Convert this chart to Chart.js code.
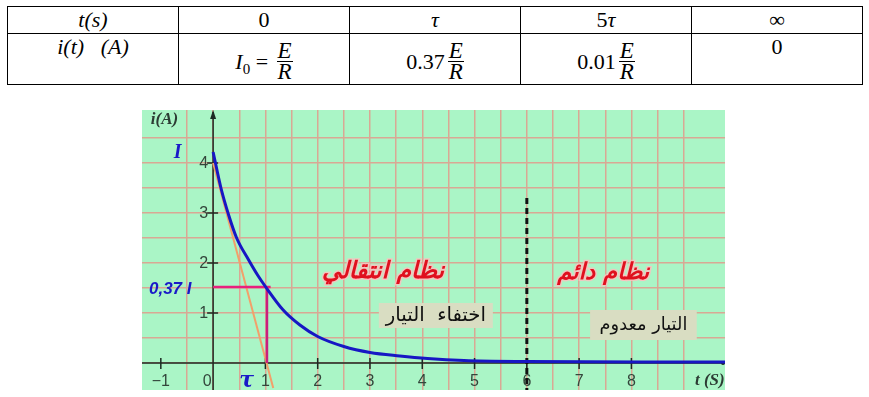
<!DOCTYPE html>
<html>
<head>
<meta charset="utf-8">
<script src="https://cdn.jsdelivr.net/npm/chart.js@4.4.0/dist/chart.umd.min.js"></script>
<style>
body { margin: 0; background: #fff; width: 869px; height: 397px; position: relative; overflow: hidden; }
table { position: absolute; left: 7px; top: 6px; width: 856px; border-collapse: collapse;
        font-family: "Liberation Serif", serif; font-size: 22px; table-layout: fixed; }
td { border: 1px solid #000; text-align: center; padding: 0; }
tr.r1 td { height: 26px; line-height: 24px; }
tr.r2 td { height: 50px; vertical-align: top; line-height: 26px; }
td.fr { padding-top: 7px; height: 43px !important; }
.it { font-style: italic; }
.frac { display: inline-block; vertical-align: middle; text-align: center; font-style: italic; margin-left: 3px; font-size: 23px; }
.frac span { display: block; line-height: 20px; padding: 0 1px; }
.frac .num { border-bottom: 1px solid #000; }
.lhs { vertical-align: middle; }
#wrap { position: absolute; left: 142px; top: 110px; width: 583px; height: 280px; }
</style>
</head>
<body>
<table>
  <tr class="r1">
    <td class="it">t(s)</td><td>0</td><td class="it">τ</td><td>5<span class="it">τ</span></td><td>∞</td>
  </tr>
  <tr class="r2">
    <td><span class="it">i(t)</span>&nbsp;&nbsp;&nbsp;<span class="it">(A)</span></td>
    <td class="fr"><span class="lhs" style="position:relative;top:4px"><i>I</i><sub style="font-size:15px">0</sub> = </span><span class="frac"><span class="num">E</span><span>R</span></span></td>
    <td class="fr"><span class="lhs">0.37</span><span class="frac"><span class="num">E</span><span>R</span></span></td>
    <td class="fr"><span class="lhs">0.01</span><span class="frac"><span class="num">E</span><span>R</span></span></td>
    <td>0</td>
  </tr>
</table>

<div id="wrap"><canvas id="chart" width="583" height="280"></canvas></div>

<script>
// current decay i(t)
const tValues = [0, 0.15, 0.3, 0.45, 0.68, 0.85, 1.0, 1.34, 1.66, 2.0, 2.5, 3.0, 3.57, 4.1, 4.8, 6.0, 8.5, 9.8];
const iValues = [4.22, 3.5, 2.95, 2.5, 2.06, 1.76, 1.53, 1.06, 0.76, 0.53, 0.33, 0.21, 0.14, 0.09, 0.05, 0.03, 0.02, 0.02];

// tangent at t = 0
const tangentT = [0, 1.15];
const tangentI = [4.0, -0.5];

// 0.37 I  /  tau construction
const levelT = [0, 1.1];
const levelI = [1.52, 1.52];
const tauT = [1.03, 1.03];
const tauI = [1.52, 0];

// boundary transient / steady state (5 tau)
const steadyT = [6, 6];
const steadyI = [3.3, -0.54];

const xTicks = [-1, 0, 1, 2, 3, 4, 5, 6, 7, 8];
const yTicks = [1, 2, 3, 4];

const toPts = (xs, ys) => xs.map((x, k) => ({ x: x, y: ys[k] }));

const GREEN = "#aaf5c6";
const GRID = "#d9a894";

function fitText(ctx, text, weight, family, width, base) {
    ctx.font = weight + " " + base + "px " + family;
    const w = ctx.measureText(text).width;
    return Math.round(base * width / w * 10) / 10;
}

const decor = {
    id: "decor",
    beforeDraw(chart) {
        const ctx = chart.ctx;
        ctx.save();
        ctx.fillStyle = GREEN;
        ctx.fillRect(0, 0, chart.width, chart.height);
        ctx.restore();
    },
    beforeDatasetsDraw(chart) {
        const ctx = chart.ctx;
        const xs = chart.scales.x, ys = chart.scales.y;
        const x0 = xs.getPixelForValue(0), y0 = ys.getPixelForValue(0);
        ctx.save();
        ctx.strokeStyle = "#1b2a22";
        ctx.lineWidth = 1.5;
        // axes
        ctx.beginPath();
        ctx.moveTo(xs.left, y0); ctx.lineTo(xs.right, y0);
        ctx.moveTo(x0, ys.bottom); ctx.lineTo(x0, ys.top + 2);
        ctx.stroke();
        // arrow on i axis
        ctx.fillStyle = "#1b2a22";
        ctx.beginPath();
        ctx.moveTo(x0, ys.top); ctx.lineTo(x0 - 3, ys.top + 9); ctx.lineTo(x0 + 3, ys.top + 9);
        ctx.closePath(); ctx.fill();
        ctx.beginPath();
        ctx.arc(xs.right - 2, y0, 2, 0, Math.PI * 2); ctx.fill();
        // tick marks
        ctx.beginPath();
        xTicks.forEach(v => { if (v !== 0) { const p = xs.getPixelForValue(v); ctx.moveTo(p, y0 - 5); ctx.lineTo(p, y0 + 6); } });
        yTicks.forEach(v => { const p = ys.getPixelForValue(v); ctx.moveTo(x0 - 6, p); ctx.lineTo(x0 + 5, p); });
        ctx.stroke();

        // tick labels
        ctx.fillStyle = "#33463b";
        ctx.font = "16px 'Liberation Sans', Arial, sans-serif";
        ctx.textAlign = "center";
        ctx.textBaseline = "middle";
        xTicks.forEach(v => {
            const p = xs.getPixelForValue(v) + (v === 0 ? -6 : 0);
            ctx.fillText(String(v === -1 ? "\u22121" : v), p, ys.getPixelForValue(-0.38));
        });
        ctx.textAlign = "right";
        yTicks.forEach(v => ctx.fillText(String(v), x0 - 5, ys.getPixelForValue(v) + 1));
        ctx.restore();
    },
    afterDatasetsDraw(chart) {
        const ctx = chart.ctx;
        const xs = chart.scales.x, ys = chart.scales.y;
        const px = v => xs.getPixelForValue(v), py = v => ys.getPixelForValue(v);
        ctx.save();
        ctx.textBaseline = "middle";
        ctx.textAlign = "center";

        // axis names
        ctx.fillStyle = "#2c3b33";
        ctx.font = "bold italic 17px 'Liberation Serif', serif";
        ctx.fillText("i(A)", px(-0.93), py(4.86));
        ctx.fillText("t (S)", px(9.5), py(-0.36));

        // I, 0.37 I, tau
        ctx.fillStyle = "#1a1ac8";
        ctx.font = "bold italic 20px 'Liberation Serif', serif";
        ctx.fillText("I", px(-0.68), py(4.2));
        ctx.font = "bold italic 17px 'Liberation Sans', sans-serif";
        ctx.fillText("0,37 I", px(-0.82), py(1.48));
        ctx.font = "bold italic 22px 'DejaVu Serif', serif";
        ctx.fillText("τ", px(0.64), py(-0.36));

        // regime titles
        const fam = "'DejaVu Sans', sans-serif";
        [["نظام انتقالي", 3.25, 1.82, 122], ["نظام دائم", 7.46, 1.8, 92]].forEach(([txt, t, i, w]) => {
            const size = fitText(ctx, txt, "bold italic", fam, w, 22);
            ctx.font = "bold italic " + size + "px " + fam;
            ctx.lineWidth = 3;
            ctx.strokeStyle = "rgba(255,190,190,0.8)";
            ctx.strokeText(txt, px(t), py(i));
            ctx.fillStyle = "#e0101e";
            ctx.fillText(txt, px(t), py(i));
        });

        // grey boxes
        [["اختفاء  التيار", 3.17, 5.35, 1.2, 0.7, 100], ["التيار معدوم", 7.21, 9.25, 1.06, 0.46, 88]].forEach(([txt, t1, t2, i1, i2, w]) => {
            ctx.fillStyle = "#d9ddc2";
            ctx.fillRect(px(t1), py(i1), px(t2) - px(t1), py(i2) - py(i1));
            const size = fitText(ctx, txt, "normal", fam, w, 16);
            ctx.font = size + "px " + fam;
            ctx.fillStyle = "#111";
            ctx.fillText(txt, (px(t1) + px(t2)) / 2, (py(i1) + py(i2)) / 2);
        });
        ctx.restore();
    }
};

const halfSteps = scale => {
    scale.ticks = scale.ticks.filter(t => Math.abs(t.value * 2 - Math.round(t.value * 2)) < 1e-6);
};

new Chart(document.getElementById("chart"), {
    type: "line",
    data: {
        datasets: [
            { data: toPts(tValues, iValues), borderColor: "#1717c4", borderWidth: 3, cubicInterpolationMode: "monotone" },
            { data: toPts(levelT, levelI), borderColor: "#e8207e", borderWidth: 2.5 },
            { data: toPts(tauT, tauI), borderColor: "#c8207e", borderWidth: 2.5 },
            { data: toPts(tangentT, tangentI), borderColor: "#f2a06a", borderWidth: 2 },
            { data: toPts(steadyT, steadyI), borderColor: "#111", borderWidth: 3, borderDash: [6, 4] }
        ]
    },
    plugins: [decor],
    options: {
        responsive: false,
        animation: false,
        layout: { padding: 0 },
        elements: { point: { radius: 0 }, line: { fill: false } },
        plugins: { legend: { display: false }, tooltip: { enabled: false } },
        scales: {
            x: {
                type: "linear", min: -1.36, max: 9.79,
                afterBuildTicks: halfSteps,
                ticks: { display: false, stepSize: 0.5 },
                grid: { color: GRID, lineWidth: 1.5, drawTicks: false },
                border: { display: false }
            },
            y: {
                type: "linear", min: -0.54, max: 5.06,
                afterBuildTicks: halfSteps,
                ticks: { display: false, stepSize: 0.5 },
                grid: { color: GRID, lineWidth: 1.5, drawTicks: false },
                border: { display: false }
            }
        }
    }
});
</script>
</body>
</html>
